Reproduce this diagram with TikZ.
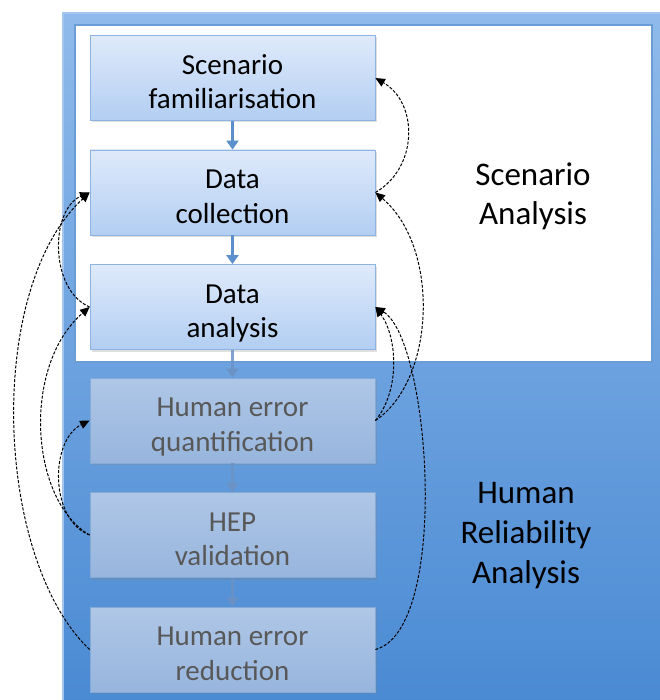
\documentclass[tikz,border=0pt]{standalone}
\usepackage{fontspec}
\setmainfont{Carlito}
\usetikzlibrary{arrows.meta,shadows}
\definecolor{bgtop}{HTML}{8FBAEB}
\definecolor{bgbot}{HTML}{4A8AD3}
\definecolor{bgline}{HTML}{A3C5EE}
\definecolor{innerline}{HTML}{6A9CD6}
\definecolor{boxtop}{HTML}{DFEAFB}
\definecolor{boxbot}{HTML}{B2CEF2}
\definecolor{boxline}{HTML}{8DB3E2}
\definecolor{fadetop}{HTML}{AFC7E7}
\definecolor{fadebot}{HTML}{97B5DD}
\definecolor{fadeline}{HTML}{86AAD6}
\definecolor{fadetext}{HTML}{585858}
\definecolor{flowblue}{HTML}{5B90CC}
\definecolor{fadeflow}{HTML}{6C92C4}
\newcommand{\steplines}[1]{\raisebox{-12.6pt}[0pt][0pt]{\begin{tabular}{@{}c@{}}#1\end{tabular}}}
\begin{document}
\begin{tikzpicture}[x=1pt,y=-1pt,
  stepbox/.style={draw=boxline, line width=0.8pt, top color=boxtop, bottom color=boxbot,
    minimum width=285pt, minimum height=85pt, inner sep=2pt,
    font=\fontsize{29}{34.5}\selectfont,
    drop shadow={opacity=0.25, shadow xshift=1.5pt, shadow yshift=-2pt}},
  fadedbox/.style={stepbox, draw=fadeline, top color=fadetop, bottom color=fadebot, text=fadetext},
  flow/.style={draw=flowblue, line width=3.5pt, -{Triangle[length=9pt,width=12pt]}},
  fadedflow/.style={flow, draw=fadeflow},
  loopback/.style={draw=black, line width=1pt, dash pattern=on 3pt off 1.6pt,
    -{Triangle[length=9.5pt,width=8.5pt]}},
  phaselabel/.style={align=center, font=\fontsize{33}{39}\selectfont}]
\useasboundingbox (0,0) rectangle (659,700);
% background panels
\fill[white] (0,0) rectangle (659,700);
\path[draw=bgline, line width=2pt, top color=bgtop, bottom color=bgbot] (63,13) rectangle (664,705);
\path[draw=innerline, line width=2.2pt, fill=white] (75,25) rectangle (652,362);
% steps
\node[stepbox] (sf) at (232.5,78) {\steplines{Scenario\\familiarisation}};
\node[stepbox] (dc) at (232.5,192.5) {\steplines{Data\\collection}};
\node[stepbox] (da) at (232.5,307) {\steplines{Data\\analysis}};
\node[fadedbox] (heq) at (232.5,420.5) {\steplines{Human error\\quantification}};
\node[fadedbox] (hep) at (232.5,535) {\steplines{HEP\\validation}};
\node[fadedbox] (her) at (232.5,649.5) {\steplines{Human error\\reduction}};
% phase labels
\node[phaselabel] (lsa) at (533,196) {Scenario\\Analysis};
\node[phaselabel, font=\fontsize{33}{40}\selectfont] (lhra) at (526,536) {Human\\Reliability\\Analysis};
% main flow
\draw[flow] (sf.south) -- (dc.north);
\draw[flow] (dc.south) -- (da.north);
\draw[fadedflow, opacity=0.85] (da.south) -- (heq.north);
\draw[fadedflow, opacity=0.85] (heq.south) -- (hep.north);
\draw[fadedflow, opacity=0.85] (hep.south) -- (her.north);
% right-side loops
\draw[loopback] (dc.east) .. controls +(43,-25) and +(43,25) .. (sf.east);
\draw[loopback] (heq.east) .. controls +(60,-40) and +(65,55) .. (dc.east);
\draw[loopback] (heq.east) .. controls +(25,-30) and +(22,30) .. (da.east);
\draw[loopback] (her.east) .. controls +(75,-20) and +(55,33) .. (da.east);
% left-side loops
\draw[loopback] (da.west) .. controls +(-40,-17) and +(-40,17) .. (dc.west);
\draw[loopback] (her.west) .. controls +(-95,-90) and +(-105,97) .. (dc.west);
\draw[loopback] (hep.west) .. controls +(-60,-35) and +(-68,59) .. (da.west);
\draw[loopback] (hep.west) .. controls +(-40,-15) and +(-40,20) .. (heq.west);
\end{tikzpicture}
\end{document}
